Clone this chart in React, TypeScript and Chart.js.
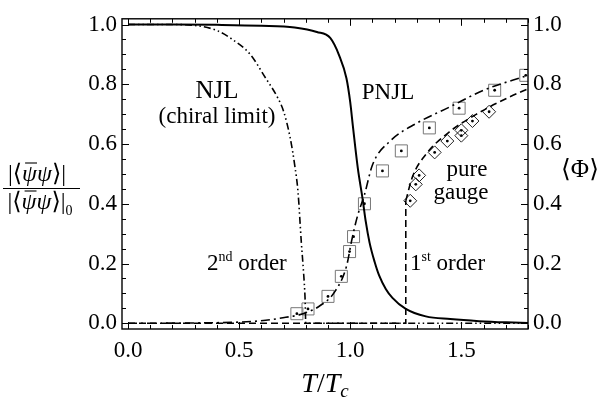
import React, { useEffect, useRef } from "react";
import { Chart, registerables } from "chart.js";

Chart.register(...registerables);

// ---------- data ----------
const xTickValues = [0, 0.5, 1.0, 1.5];
const yTickValues = [0, 0.2, 0.4, 0.6, 0.8, 1.0];

// PNJL chiral condensate (solid)
const pnjlCondX = [0.0, 0.2, 0.4, 0.6, 0.75, 0.85, 0.91, 0.95, 0.983, 1.0, 1.012, 1.034, 1.056, 1.07, 1.087, 1.11, 1.13, 1.16, 1.19, 1.25, 1.34, 1.45, 1.58, 1.7, 1.8];
const pnjlCondY = [1.0, 1.0, 0.999, 0.996, 0.99, 0.975, 0.955, 0.897, 0.82, 0.74, 0.66, 0.52, 0.415, 0.34, 0.27, 0.205, 0.16, 0.115, 0.085, 0.048, 0.023, 0.014, 0.007, 0.003, 0.001];

// NJL chiral limit condensate (dash-dot-dot)
const njlX = [0.0, 0.2, 0.3, 0.4, 0.47, 0.55, 0.62, 0.67, 0.7, 0.73, 0.75, 0.765, 0.78, 0.79, 0.797, 0.8, 1.0, 1.4, 1.8];
const njlY = [1.0, 1.0, 0.997, 0.98, 0.95, 0.9, 0.82, 0.76, 0.71, 0.62, 0.53, 0.44, 0.27, 0.17, 0.08, 0.0, 0.0, 0.0, 0.0];

// PNJL Polyakov loop (dash-dot)
const polyX = [0.0, 0.3, 0.5, 0.62, 0.71, 0.77, 0.81, 0.85, 0.93, 0.983, 1.006, 1.033, 1.064, 1.1, 1.18, 1.3, 1.45, 1.6, 1.8];
const polyY = [0.0, 0.001, 0.004, 0.01, 0.02, 0.028, 0.038, 0.052, 0.105, 0.19, 0.275, 0.36, 0.43, 0.53, 0.61, 0.67, 0.725, 0.78, 0.83];

// pure gauge Polyakov loop (dashed)
const gaugeFlatX = [0.0, 1.25, 1.25];
const gaugeFlatY = [0.0, 0.0, 0.41];
const gaugeX = [1.25, 1.28, 1.34, 1.445, 1.58, 1.715, 1.8];
const gaugeY = [0.41, 0.49, 0.565, 0.64, 0.705, 0.757, 0.785];

// lattice points: squares (full QCD) and diamonds (pure gauge)
const squareX = [0.76, 0.81, 0.9, 0.96, 0.997, 1.015, 1.064, 1.145, 1.23, 1.356, 1.49, 1.65, 1.79];
const squareY = [0.032, 0.048, 0.09, 0.157, 0.24, 0.29, 0.4, 0.51, 0.577, 0.654, 0.72, 0.78, 0.83];
const diamondX = [1.27, 1.295, 1.31, 1.38, 1.437, 1.5, 1.5, 1.55, 1.625];
const diamondY = [0.41, 0.465, 0.495, 0.572, 0.61, 0.628, 0.646, 0.677, 0.708];

const pts = (xs: number[], ys: number[]) => xs.map((x, i) => ({ x, y: ys[i] }));

const SERIF = "'Liberation Serif', 'Times New Roman', 'DejaVu Serif', serif";

type Run = { text: string; font: string; dy?: number; bar?: boolean };

function drawRuns(ctx: CanvasRenderingContext2D, runs: Run[], x: number, y: number, align: "left" | "center") {
  let total = 0;
  const widths = runs.map((r) => {
    ctx.font = r.font;
    const w = ctx.measureText(r.text).width;
    total += w;
    return w;
  });
  let cx = align === "center" ? x - total / 2 : x;
  ctx.textAlign = "left";
  ctx.textBaseline = "alphabetic";
  runs.forEach((r, i) => {
    ctx.font = r.font;
    ctx.fillText(r.text, cx, y + (r.dy || 0));
    if (r.bar) {
      ctx.beginPath();
      ctx.lineWidth = 1.1;
      ctx.moveTo(cx + 3, y - 18);
      ctx.lineTo(cx + widths[i], y - 18);
      ctx.stroke();
    }
    cx += widths[i];
  });
}

const overlayPlugin = {
  id: "overlay",
  afterDraw(chart: any) {
    const ctx: CanvasRenderingContext2D = chart.ctx;
    const { left, right, top, bottom } = chart.chartArea;
    const xs = chart.scales.x;
    const ys = chart.scales.y;
    ctx.save();
    ctx.strokeStyle = "#000";
    ctx.fillStyle = "#000";
    ctx.lineWidth = 1.4;
    ctx.strokeRect(left, top, right - left, bottom - top);

    ctx.lineWidth = 1;
    ctx.beginPath();
    for (let k = 0; k <= 18; k++) {
      const px = Math.round(xs.getPixelForValue(k * 0.1)) + 0.5;
      const len = k % 5 === 0 ? 7 : 4;
      ctx.moveTo(px, bottom);
      ctx.lineTo(px, bottom - len);
      ctx.moveTo(px, top);
      ctx.lineTo(px, top + len);
    }
    for (let k = 0; k <= 20; k++) {
      const py = Math.round(ys.getPixelForValue(k * 0.05)) + 0.5;
      const len = k % 4 === 0 ? 7 : 4;
      ctx.moveTo(left, py);
      ctx.lineTo(left + len, py);
      ctx.moveTo(right, py);
      ctx.lineTo(right - len, py);
    }
    ctx.stroke();

    const f = `23px ${SERIF}`;
    const fs = `14px ${SERIF}`;
    ctx.strokeStyle = "#000";
    drawRuns(ctx, [{ text: "NJL", font: `25px ${SERIF}` }], 217, 98, "center");
    drawRuns(ctx, [{ text: "(chiral limit)", font: f }], 217, 123, "center");
    drawRuns(ctx, [{ text: "PNJL", font: f }], 388, 99, "center");
    drawRuns(ctx, [{ text: "pure", font: f }], 467, 176, "center");
    drawRuns(ctx, [{ text: "gauge", font: f }], 461, 199, "center");
    drawRuns(ctx, [{ text: "2", font: f }, { text: "nd", font: fs, dy: -9 }, { text: " order", font: f }], 207, 270, "left");
    drawRuns(ctx, [{ text: "1", font: f }, { text: "st", font: fs, dy: -9 }, { text: " order", font: f }], 410, 270, "left");

    // x axis title T/T_c
    const fi = `italic 28px ${SERIF}`;
    drawRuns(ctx, [{ text: "T", font: fi }, { text: "/", font: `28px ${SERIF}` }, { text: "T", font: fi }, { text: "c", font: `italic 19px ${SERIF}`, dy: 5 }], 325, 392, "center");

    // left axis title (fraction)
    const fu = `24px ${SERIF}`;
    const fpsi = `italic 24px ${SERIF}`;
    const fracRuns = (): Run[] => [
      { text: "|", font: fu },
      { text: "⟨", font: fu },
      { text: "ψ", font: fpsi, bar: true },
      { text: "ψ", font: fpsi },
      { text: "⟩", font: fu },
      { text: "|", font: fu },
    ];
    drawRuns(ctx, fracRuns(), 37, 181, "center");
    ctx.beginPath();
    ctx.lineWidth = 1.2;
    ctx.moveTo(3, 188.5);
    ctx.lineTo(80, 188.5);
    ctx.stroke();
    drawRuns(ctx, [...fracRuns(), { text: "0", font: fs, dy: 6 }], 40, 209, "center");

    // right axis title <Phi>
    drawRuns(ctx, [{ text: "⟨Φ⟩", font: `25px ${SERIF}` }], 580, 177, "center");

    ctx.restore();
  },
};

export default function App() {
  const ref = useRef<HTMLCanvasElement | null>(null);

  useEffect(() => {
    document.body.style.margin = "0";
    const canvas = ref.current;
    if (!canvas) return;
    const lineBase = {
      pointRadius: 0,
      borderColor: "#000",
      fill: false,
      cubicInterpolationMode: "monotone" as const,
      showLine: true,
    };
    const chart = new Chart(canvas, {
      type: "scatter",
      data: {
        datasets: [
          { ...lineBase, label: "PNJL condensate", data: pts(pnjlCondX, pnjlCondY), borderWidth: 2 },
          { ...lineBase, label: "NJL chiral limit", data: pts(njlX, njlY), borderWidth: 1.6, borderDash: [7, 3, 1.5, 3, 1.5, 3] },
          { ...lineBase, label: "PNJL Polyakov loop", data: pts(polyX, polyY), borderWidth: 1.6, borderDash: [9, 4, 2, 4] },
          { ...lineBase, label: "pure gauge flat", data: pts(gaugeFlatX, gaugeFlatY), borderWidth: 1.6, borderDash: [7, 4], cubicInterpolationMode: "default" as const, tension: 0 },
          { ...lineBase, label: "pure gauge", data: pts(gaugeX, gaugeY), borderWidth: 1.6, borderDash: [7, 4] },
          {
            label: "lattice squares",
            data: pts(squareX, squareY),
            showLine: false,
            pointStyle: "rect",
            pointRadius: 8.5,
            borderColor: "#777",
            backgroundColor: "rgba(0,0,0,0)",
            borderWidth: 1,
          },
          {
            label: "square centers",
            data: pts(squareX, squareY),
            showLine: false,
            pointStyle: "circle",
            pointRadius: 1.4,
            borderWidth: 0,
            backgroundColor: "#000",
          },
          {
            label: "lattice diamonds",
            data: pts(diamondX, diamondY),
            showLine: false,
            pointStyle: "rectRot",
            pointRadius: 6.5,
            borderColor: "#222",
            backgroundColor: "rgba(0,0,0,0)",
            borderWidth: 1,
          },
          {
            label: "diamond centers",
            data: pts(diamondX, diamondY),
            showLine: false,
            pointStyle: "circle",
            pointRadius: 1.4,
            borderWidth: 0,
            backgroundColor: "#000",
          },
        ],
      },
      options: {
        animation: false,
        responsive: false,
        events: [],
        layout: { padding: { top: 5, left: 0, right: 0, bottom: 0 } },
        plugins: { legend: { display: false }, tooltip: { enabled: false } },
        scales: {
          x: {
            type: "linear",
            position: "bottom",
            min: -0.027,
            max: 1.8,
            grid: { display: false, drawTicks: false },
            border: { display: false },
            afterBuildTicks: (s: any) => {
              s.ticks = xTickValues.map((v) => ({ value: v }));
            },
            afterFit: (s: any) => {
              s.height = 73;
            },
            ticks: {
              padding: 8,
              color: "#000",
              font: { family: SERIF, size: 23 },
              maxRotation: 0,
              callback: (v: any) => Number(v).toFixed(1),
            },
          },
          y: {
            type: "linear",
            position: "left",
            min: -0.0192,
            max: 1.0192,
            grid: { display: false, drawTicks: false },
            border: { display: false },
            afterBuildTicks: (s: any) => {
              s.ticks = yTickValues.map((v) => ({ value: v }));
            },
            afterFit: (s: any) => {
              s.width = 122;
            },
            ticks: {
              padding: 5,
              color: "#000",
              font: { family: SERIF, size: 23 },
              callback: (v: any) => Number(v).toFixed(1),
            },
          },
          y2: {
            type: "linear",
            position: "right",
            min: -0.0192,
            max: 1.0192,
            grid: { display: false, drawTicks: false },
            border: { display: false },
            afterBuildTicks: (s: any) => {
              s.ticks = yTickValues.map((v) => ({ value: v }));
            },
            afterFit: (s: any) => {
              s.width = 71;
            },
            ticks: {
              padding: 5,
              color: "#000",
              font: { family: SERIF, size: 23 },
              callback: (v: any) => Number(v).toFixed(1),
            },
          },
        },
      },
      plugins: [overlayPlugin],
    });
    return () => chart.destroy();
  }, []);

  return <canvas ref={ref} width={599} height={402} style={{ display: "block" }} />;
}
